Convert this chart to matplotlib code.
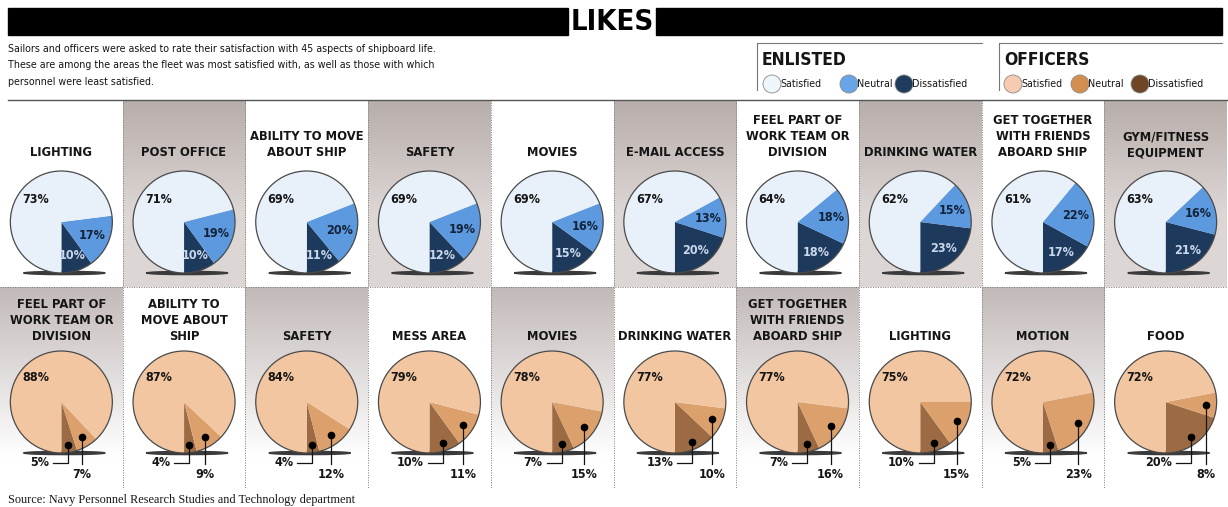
from pathlib import Path
import numpy as np
import matplotlib as mpl
import matplotlib.pyplot as plt
from matplotlib import font_manager as fm
from matplotlib.patches import Circle, Ellipse, Rectangle
from matplotlib.colors import to_rgb

mpl.rcParams.update({
    'font.family': ['DejaVu Sans'],
    'axes.unicode_minus': False,
})

_files = {Path(f.fname).name: f.fname for f in fm.fontManager.ttflist}


def face(names, fallback):
    # first narrow face found on the system, else a stretched DejaVu request
    for n in names:
        if n in _files:
            return fm.FontProperties(fname=_files[n])
    return fallback


BOLD = face(['NotoSans-CondensedBold.ttf', 'NotoSans-CondensedBlack.ttf',
             'DejaVuSansCondensed-Bold.ttf'],
            fm.FontProperties(family='DejaVu Sans', weight='bold', stretch='condensed'))
LIGHT = face(['NotoSans-CondensedLight.ttf', 'NotoSans-Condensed.ttf',
              'NotoSans-CondensedRegular.ttf', 'DejaVuSansCondensed.ttf'],
             fm.FontProperties(family='DejaVu Sans', stretch='condensed'))
SERIF = fm.FontProperties(family=['Liberation Serif', 'DejaVu Serif'])

W, H = 1228, 507

enlisted_topics = ['LIGHTING', 'POST OFFICE', 'ABILITY TO MOVE\nABOUT SHIP', 'SAFETY', 'MOVIES',
                   'E-MAIL ACCESS', 'FEEL PART OF\nWORK TEAM OR\nDIVISION', 'DRINKING WATER',
                   'GET TOGETHER\nWITH FRIENDS\nABOARD SHIP', 'GYM/FITNESS\nEQUIPMENT']
enlisted_satisfied = [73, 71, 69, 69, 69, 67, 64, 62, 61, 63]
enlisted_neutral = [17, 19, 20, 19, 16, 13, 18, 15, 22, 16]
enlisted_dissatisfied = [10, 10, 11, 12, 15, 20, 18, 23, 17, 21]

officer_topics = ['FEEL PART OF\nWORK TEAM OR\nDIVISION', 'ABILITY TO\nMOVE ABOUT\nSHIP', 'SAFETY',
                  'MESS AREA', 'MOVIES', 'DRINKING WATER', 'GET TOGETHER\nWITH FRIENDS\nABOARD SHIP',
                  'LIGHTING', 'MOTION', 'FOOD']
officer_satisfied = [88, 87, 84, 79, 78, 77, 77, 75, 72, 72]
officer_neutral = [7, 9, 12, 11, 15, 10, 16, 15, 23, 8]
officer_dissatisfied = [5, 4, 4, 10, 7, 13, 7, 10, 5, 20]

ENL = {'sat': '#e8f0f9', 'neu': '#5c99de', 'dis': '#1d395c'}
OFF = {'sat': '#f2c6a0', 'neu': '#dca06c', 'dis': '#9c6b44'}
ENL_KEY = ['#eef5fb', '#68a4e8', '#1f3b5e']
OFF_KEY = ['#f6cbb0', '#d38e50', '#6e4626']
INK = '#151515'

fig = plt.figure(figsize=(W / 100, H / 100), dpi=100)
ax = fig.add_axes([0, 0, 1, 1])


def Y(py):
    # work in pixel rows measured from the top edge
    return H - py


def gradient_cell(x0, x1, top, bottom, c_top, c_bot, fade_at=1.0):
    n = 64
    t = np.linspace(0, 1, n)
    t = np.clip(t / fade_at, 0, 1)
    a, b = np.array(to_rgb(c_top)), np.array(to_rgb(c_bot))
    col = a[None, :] * (1 - t[:, None]) + b[None, :] * t[:, None]
    img = np.repeat(col[:, None, :], 4, axis=1)
    ax.imshow(img, extent=(x0, x1, Y(bottom), Y(top)), aspect='auto',
              interpolation='bilinear', zorder=0)


# column grid
ncol = 10
col_w = (W - 1) / ncol
centers = [col_w * (i + 0.5) for i in range(ncol)]
row1_top, row1_bot = 100, 287
row2_top, row2_bot = 287, 488

for i in range(ncol):
    x0, x1 = col_w * i, col_w * (i + 1)
    if i % 2 == 1:
        gradient_cell(x0, x1, row1_top, row1_bot, '#b8aeab', '#dcd6d4', 0.6)
    else:
        gradient_cell(x0, x1, row2_top, row2_bot, '#c2bab8', '#ffffff', 0.85)

for i in range(1, ncol):
    ax.plot([col_w * i] * 2, [Y(row1_top), Y(row2_bot)], color='#7a7a7a',
            lw=0.7, ls=(0, (1, 1.5)), zorder=1)
ax.plot([0, W], [Y(row2_top)] * 2, color='#7a7a7a', lw=0.7, ls=(0, (1, 1.5)), zorder=1)
ax.plot([8, W], [Y(row1_top)] * 2, color='#555555', lw=1.0, zorder=1)

# headline bar
ax.add_patch(Rectangle((8, Y(35)), 560, 27, color='black', zorder=2))
ax.add_patch(Rectangle((656, Y(35)), 566, 27, color='black', zorder=2))
ax.text(612, Y(22), 'LIKES', ha='center', va='center', fontproperties=BOLD, fontsize=21,
        color='black', zorder=3)

ax.text(8, Y(44), 'Sailors and officers were asked to rate their satisfaction with 45 aspects of shipboard life.\n'
        'These are among the areas the fleet was most satisfied with, as well as those with which\n'
        'personnel were least satisfied.', ha='left', va='top', fontproperties=LIGHT, fontsize=7.7,
        linespacing=1.8, color=INK)

# legends
for bx, bx_end, name, key, labels_x in [
        (757, 982, 'ENLISTED', ENL_KEY, [772, 849, 904]),
        (999, 1222, 'OFFICERS', OFF_KEY, [1013, 1080, 1140])]:
    ax.plot([bx, bx, bx_end], [Y(90), Y(43), Y(43)], color='#777777', lw=0.8)
    ax.text(bx + 5, Y(65), name, ha='left', va='baseline', fontproperties=BOLD, fontsize=12.5,
            color=INK)
    for cx, c, lab in zip(labels_x, key, ['Satisfied', 'Neutral', 'Dissatisfied']):
        ax.add_patch(Circle((cx, Y(84)), 9, facecolor=c, edgecolor='#8a8a8a', lw=0.6, zorder=3))
        ax.text(cx + 8, Y(84), lab, ha='left', va='center', fontproperties=LIGHT, fontsize=7.7,
                color=INK, zorder=4)


def draw_pie(cx, cy, r, vals, colors):
    ax.add_patch(Ellipse((cx + 3, Y(cy + r)), 1.6 * r, 3.2, color='#3a3a3a', zorder=2))
    wedges, _ = ax.pie(vals, startangle=270, counterclock=True, center=(cx, Y(cy)),
                       radius=r, colors=colors, wedgeprops=dict(linewidth=0))
    for w in wedges:
        w.set_zorder(3)
    ax.add_patch(Circle((cx, Y(cy)), r, fill=False, edgecolor='#4a4a4a', lw=0.9, zorder=4))
    return wedges


def polar(cx, cy, r, ang):
    a = np.deg2rad(ang)
    return cx + r * np.cos(a), Y(cy) + r * np.sin(a)


R = 51
pct_kw = dict(fontproperties=BOLD, fontsize=9, ha='center', va='center', zorder=5)
title_kw = dict(fontproperties=BOLD, fontsize=9.3, ha='center', va='bottom',
                linespacing=1.3, color=INK, zorder=5)

# enlisted row
for i in range(ncol):
    cx, cy = centers[i], 222
    ax.text(cx, Y(159), enlisted_topics[i], **title_kw)
    wedges = draw_pie(cx, cy, R, [enlisted_dissatisfied[i], enlisted_neutral[i], enlisted_satisfied[i]],
                      [ENL['dis'], ENL['neu'], ENL['sat']])
    mid_d = (wedges[0].theta1 + wedges[0].theta2) / 2
    mid_n = (wedges[1].theta1 + wedges[1].theta2) / 2
    ax.text(*polar(cx, cy, 0.7 * R, mid_d), f'{enlisted_dissatisfied[i]}%', color='#c9d8ec', **pct_kw)
    ax.text(*polar(cx, cy, 0.66 * R, mid_n), f'{enlisted_neutral[i]}%', color='#13233a', **pct_kw)
    ax.text(cx - 0.5 * R, Y(cy - 0.45 * R), f'{enlisted_satisfied[i]}%', color=INK, **pct_kw)

# officers row
for i in range(ncol):
    cx, cy = centers[i], 402
    ax.text(cx, Y(343), officer_topics[i], **title_kw)
    wedges = draw_pie(cx, cy, R, [officer_dissatisfied[i], officer_neutral[i], officer_satisfied[i]],
                      [OFF['dis'], OFF['neu'], OFF['sat']])
    ax.text(cx - 0.5 * R, Y(cy - 0.48 * R), f'{officer_satisfied[i]}%', color=INK, **pct_kw)
    mid_d = (wedges[0].theta1 + wedges[0].theta2) / 2
    mid_n = (wedges[1].theta1 + wedges[1].theta2) / 2
    dx, dy = polar(cx, cy, 0.85 * R, mid_d)
    nx, ny = polar(cx, cy, 0.8 * R, mid_n)
    ax.plot([dx, dx, dx - 15], [dy, Y(463), Y(463)], color=INK, lw=0.9, zorder=6)
    ax.plot([nx, nx], [ny, Y(464)], color=INK, lw=0.9, zorder=6)
    ax.plot([dx, nx], [dy, ny], ls='none', marker='o', ms=4.5, color='black', zorder=7)
    ax.text(dx - 19, Y(463), f'{officer_dissatisfied[i]}%', color=INK,
            **{**pct_kw, 'ha': 'right'})
    ax.text(nx, Y(474), f'{officer_neutral[i]}%', color=INK, **pct_kw)

ax.text(8, Y(500), 'Source: Navy Personnel Research Studies and Technology department',
        ha='left', va='center', fontproperties=SERIF, fontsize=8.8, color=INK)

ax.set_xlim(0, W)
ax.set_ylim(0, H)
ax.set_aspect('auto')
ax.axis('off')
fig.savefig('out.png', dpi=100)
